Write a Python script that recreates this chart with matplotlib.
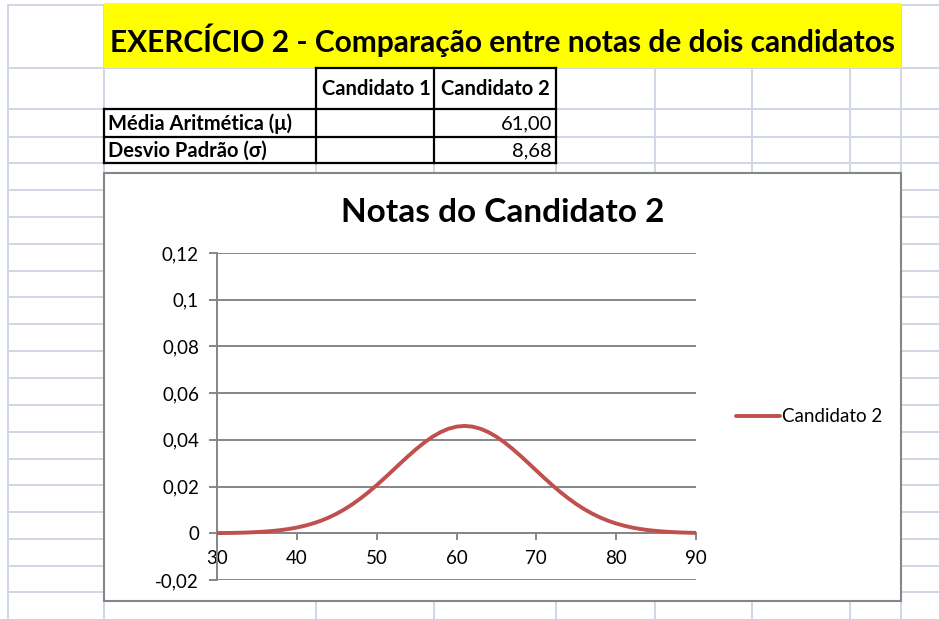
import matplotlib
matplotlib.use('Agg')
import matplotlib.pyplot as plt
from matplotlib.patches import Rectangle

plt.rcParams['font.family'] = ['Lato', 'DejaVu Sans']

# data (normal curve, mu = 61, sigma = 8.68)
notas = list(range(30, 91))
densidade = [0.00008, 0.00012, 0.00017, 0.00025, 0.00036, 0.00052, 0.00073,
             0.00101, 0.00137, 0.00185, 0.00246, 0.00323, 0.00419, 0.00535,
             0.00675, 0.00841, 0.01033, 0.01252, 0.01498, 0.01767, 0.02059,
             0.02367, 0.02685, 0.03006, 0.03320, 0.03619, 0.03893, 0.04133,
             0.04330, 0.04476, 0.04566, 0.04596, 0.04566, 0.04476, 0.04330,
             0.04133, 0.03893, 0.03619, 0.03320, 0.03006, 0.02685, 0.02367,
             0.02059, 0.01767, 0.01498, 0.01252, 0.01033, 0.00841, 0.00675,
             0.00535, 0.00419, 0.00323, 0.00246, 0.00185, 0.00137, 0.00101,
             0.00073, 0.00052, 0.00036, 0.00025, 0.00017]
y_ticks = [-0.02, 0, 0.02, 0.04, 0.06, 0.08, 0.1, 0.12]
y_labels = ['-0,02', '0', '0,02', '0,04', '0,06', '0,08', '0,1', '0,12']
x_ticks = [30, 40, 50, 60, 70, 80, 90]
colunas = ['Candidato 1', 'Candidato 2']
linhas = ['Média Aritmética (μ)', 'Desvio Padrão (σ)']
valores_c2 = ['61,00', '8,68']

W, H = 939, 619
fig = plt.figure(figsize=(W / 100, H / 100), dpi=100)

# spreadsheet background, in pixel coordinates
bg = fig.add_axes([0, 0, 1, 1], zorder=0)
bg.set_xlim(0, W)
bg.set_ylim(H, 0)
bg.axis('off')

grid_c = '#D0D7E5'
col_x = [8, 104, 316, 434, 556, 655, 752, 850, 901]
row_y = [5, 68, 109, 137, 163, 190, 217, 244, 271, 297, 324, 351, 378, 405,
         432, 459, 485, 512, 539, 566, 592]
for x in col_x:
    bg.plot([x, x], [5, H], color=grid_c, lw=1.4, zorder=1)
for y in row_y:
    bg.plot([8, W], [y, y], color=grid_c, lw=1.4, zorder=1)

# yellow header
bg.add_patch(Rectangle((104, 3), 797, 65, facecolor='#FFFF00', edgecolor='none', zorder=2))
bg.text(502, 40, 'EXERCÍCIO 2 - Comparação entre notas de dois candidatos',
        ha='center', va='center', fontsize=21.5, fontweight='bold', zorder=3)

# table
tb = dict(color='black', lw=1.6, zorder=4)
bg.plot([316, 556], [68, 68], **tb)
for y in [109, 137, 163]:
    bg.plot([104, 556], [y, y], **tb)
for x in [316, 434, 556]:
    bg.plot([x, x], [68, 163], **tb)
bg.plot([104, 104], [109, 163], **tb)
bg.text(376, 89, colunas[0], ha='center', va='center', fontsize=14.5, fontweight='bold', zorder=5)
bg.text(495, 89, colunas[1], ha='center', va='center', fontsize=14.5, fontweight='bold', zorder=5)
for y, lab, val in zip([123.5, 150.5], linhas, valores_c2):
    bg.text(108, y, lab, ha='left', va='center', fontsize=14.5, fontweight='bold', zorder=5)
    bg.text(552, y, val, ha='right', va='center', fontsize=14.5, zorder=5)

# chart box
bg.add_patch(Rectangle((104, 173), 797, 428, facecolor='white', edgecolor='#868686',
                       lw=1.5, zorder=6))
bg.text(503, 212, 'Notas do Candidato 2', ha='center', va='center',
        fontsize=24, fontweight='bold', zorder=7)

# plot area
ax = fig.add_axes([217 / W, 1 - 580 / H, (696 - 217) / W, (580 - 253) / H], zorder=1)
ax.set_facecolor('none')
ax.plot(notas, densidade, color='#C0504D', lw=2.8, solid_capstyle='round',
        label='Candidato 2', zorder=5)
ax.set_xlim(30, 90)
ax.set_ylim(-0.02, 0.12)
ax.set_yticks(y_ticks)
ax.set_yticklabels(y_labels)
ax.set_xticks(x_ticks)
ax.grid(axis='y', color='#868686', lw=1.4)
ax.set_axisbelow(True)
for s in ['top', 'right']:
    ax.spines[s].set_visible(False)
ax.spines['left'].set_color('#868686')
ax.spines['left'].set_linewidth(1.4)
ax.spines['bottom'].set_position(('data', 0))
ax.spines['bottom'].set_color('#868686')
ax.spines['bottom'].set_linewidth(1.4)
ax.tick_params(axis='y', direction='out', length=6, width=1.4, color='#868686',
               labelsize=13.5, pad=7)
ax.tick_params(axis='x', direction='out', length=5, width=1.4, color='#868686',
               labelsize=13.5, pad=7)

fig.legend(loc='center left', bbox_to_anchor=(727 / W, 1 - 417 / H), frameon=False,
           fontsize=13.5, handlelength=2.3, handletextpad=0.15, borderpad=0)

fig.savefig('out.png', dpi=100)
